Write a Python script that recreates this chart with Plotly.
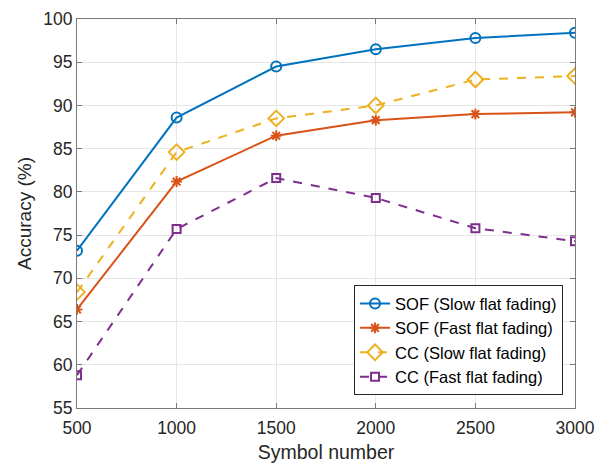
import plotly.graph_objects as go

symbols = [500, 1000, 1500, 2000, 2500, 3000]
sof_slow = [73.2, 88.6, 94.5, 96.5, 97.8, 98.4]
sof_fast = [66.4, 81.2, 86.5, 88.3, 89.0, 89.2]
cc_slow = [68.4, 84.6, 88.5, 90.0, 93.0, 93.4]
cc_fast = [58.8, 75.7, 81.6, 79.3, 75.8, 74.3]

series = [
    ("SOF (Slow flat fading)", sof_slow, "#0072BD", "solid", "circle-open", 10),
    ("SOF (Fast flat fading)", sof_fast, "#D95319", "solid", "asterisk-open", 9),
    ("CC (Slow flat fading)", cc_slow, "#EDB120", "dash", "diamond-open", 12),
    ("CC (Fast flat fading)", cc_fast, "#7E2F8E", "dash", "square-open", 8),
]

fig = go.Figure()
for name, ys, color, dash, sym, size in series:
    fig.add_trace(go.Scatter(
        x=symbols, y=ys, name=name, mode="lines+markers",
        line=dict(color=color, width=2, dash=dash),
        marker=dict(symbol=sym, size=size, color=color, line=dict(width=2, color=color)),
    ))

axis_common = dict(
    showline=True, linecolor="#7a7a7a", linewidth=1, mirror="ticks",
    ticks="inside", ticklen=5, tickcolor="#7a7a7a",
    showgrid=True, gridcolor="#e6e6e6", gridwidth=1,
    zeroline=False, tickfont=dict(size=17.5, color="#262626"),
    automargin=False,
)

fig.update_layout(
    width=608, height=465,
    margin=dict(l=77, r=33, t=19, b=57),
    paper_bgcolor="white", plot_bgcolor="white",
    font=dict(family="Liberation Sans, Arial, sans-serif", color="#262626"),
    xaxis=dict(range=[500, 3000], tickvals=symbols, ticklabelstandoff=4,
               title=dict(text="Symbol number", font=dict(size=19.5), standoff=8), **axis_common),
    yaxis=dict(range=[55, 100], dtick=5,
               title=dict(text="Accuracy (%)", font=dict(size=19), standoff=6), **axis_common),
    legend=dict(x=0.976, y=0.033, xanchor="right", yanchor="bottom",
                bgcolor="white", bordercolor="#262626", borderwidth=1,
                font=dict(size=16.5, color="#000000"), tracegroupgap=0),
    showlegend=True,
)

fig.write_html("out.html")
